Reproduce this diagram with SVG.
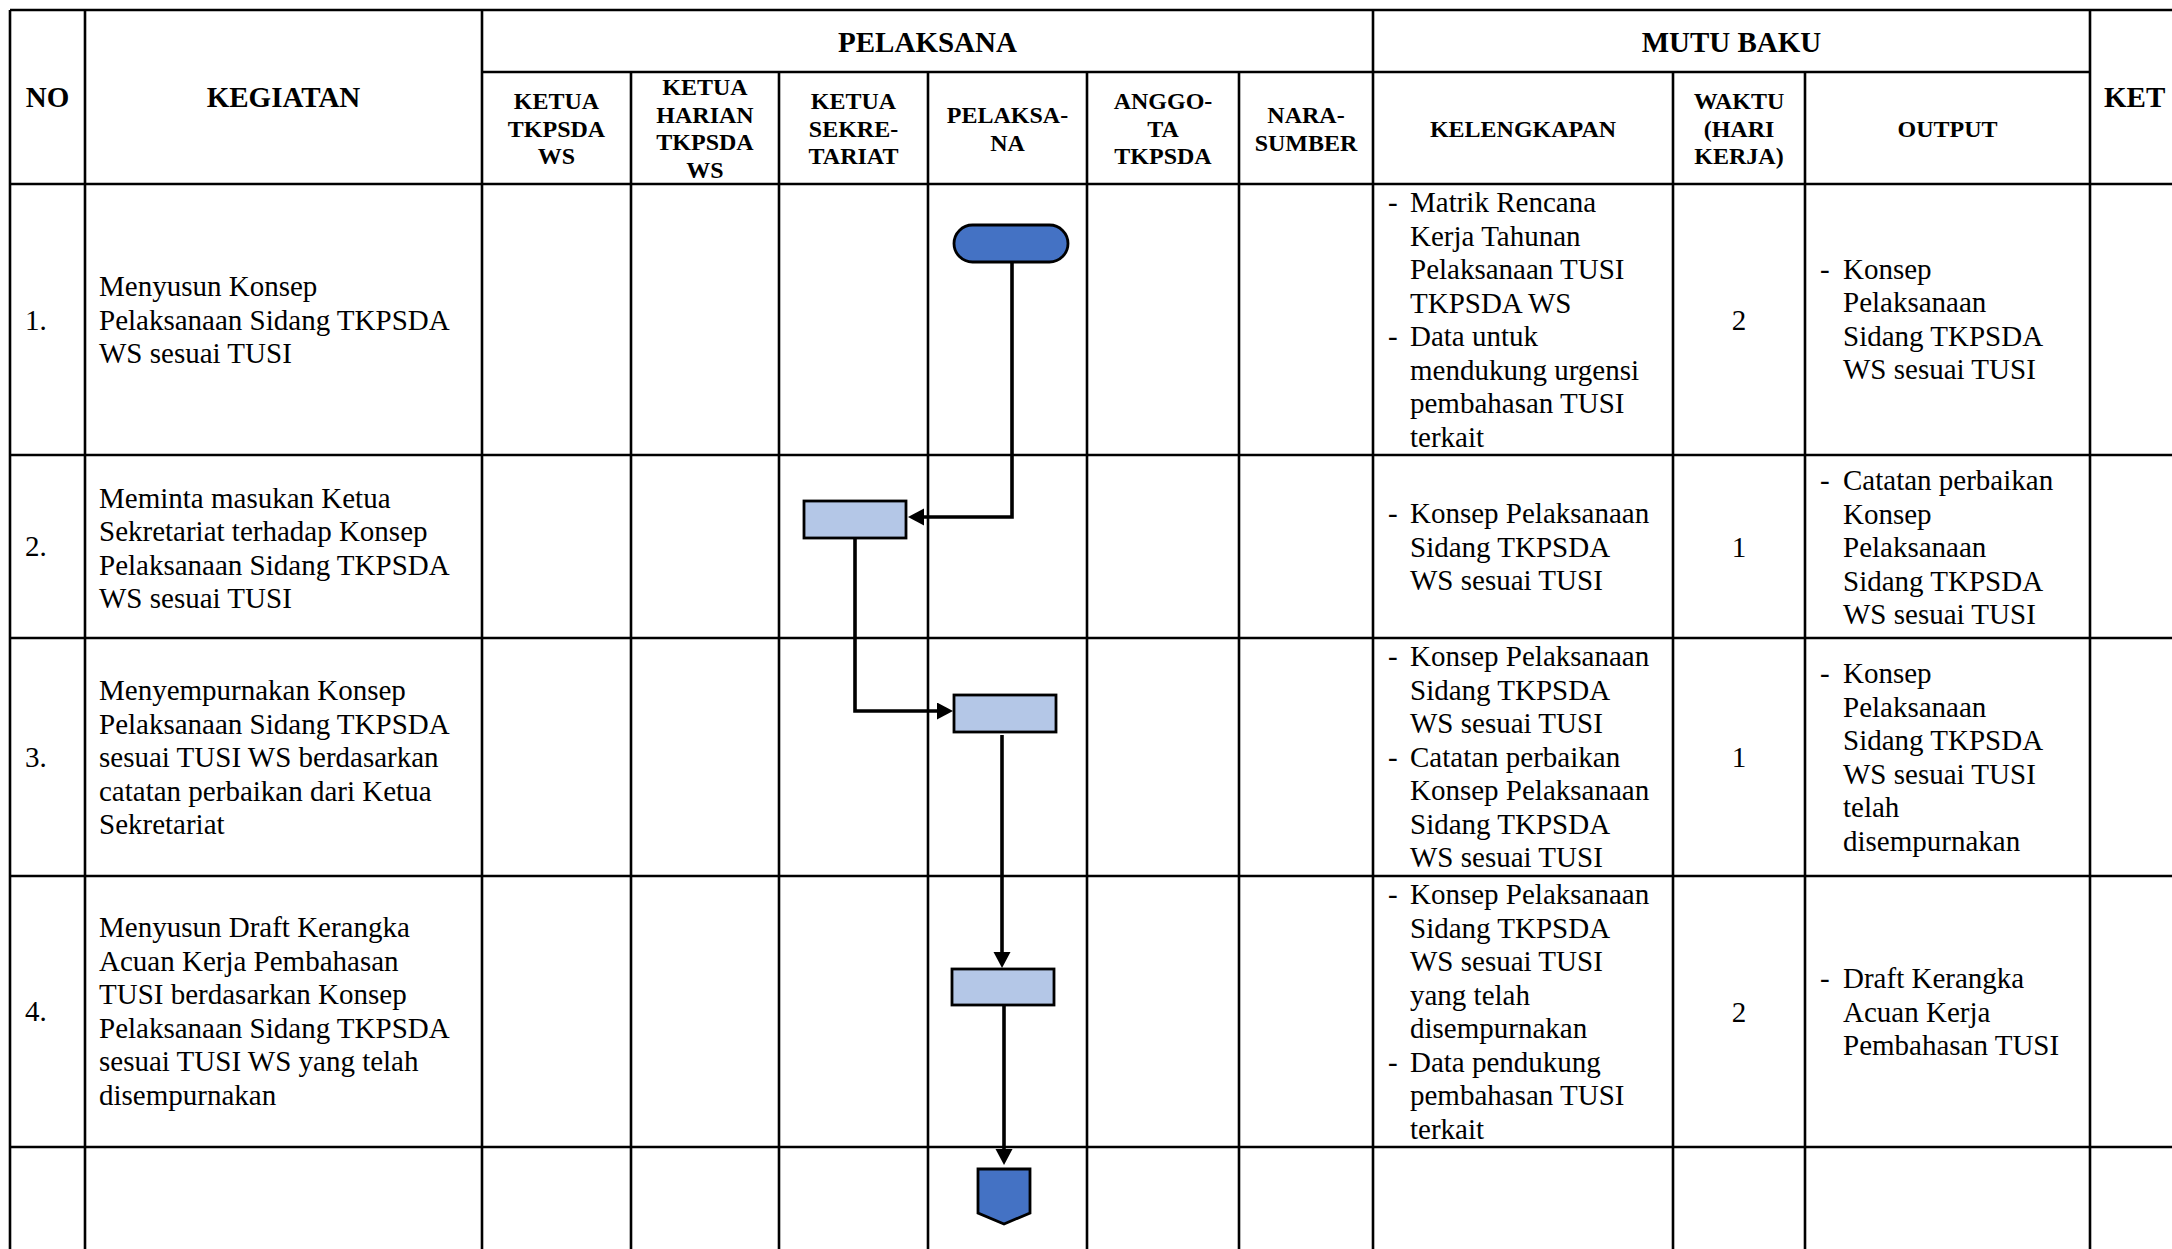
<svg xmlns="http://www.w3.org/2000/svg" width="2172" height="1249" viewBox="0 0 2172 1249">
<style>
.g line{stroke:#000;stroke-width:2.6}
text{font-family:"Liberation Serif","Times New Roman",serif;fill:#000}
.h{font-size:29px;font-weight:bold;text-anchor:middle}
.s{font-size:24px;font-weight:bold;text-anchor:middle}
.b{font-size:29px}
.m{text-anchor:middle}
.term{fill:#4472C4;stroke:#000;stroke-width:2.8}
.proc{fill:#B4C7E7;stroke:#000;stroke-width:2.8}
.conn path{fill:none;stroke:#000;stroke-width:3.6;marker-end:url(#arr)}
</style>
<defs>
<marker id="arr" markerUnits="userSpaceOnUse" markerWidth="17" markerHeight="18" refX="6" refY="8.5" orient="auto">
<path d="M0,0 L16,8.5 L0,17 Z" fill="#000"/>
</marker>
</defs>
<rect width="2172" height="1249" fill="#fff"/>
<g id="grid" class="g">
<line x1="10" y1="10" x2="2172" y2="10"/>
<line x1="482" y1="72" x2="2090" y2="72"/>
<line x1="10" y1="184" x2="2172" y2="184"/>
<line x1="10" y1="455" x2="2172" y2="455"/>
<line x1="10" y1="638" x2="2172" y2="638"/>
<line x1="10" y1="876" x2="2172" y2="876"/>
<line x1="10" y1="1147" x2="2172" y2="1147"/>
<line x1="10" y1="10" x2="10" y2="1249"/>
<line x1="85" y1="10" x2="85" y2="1249"/>
<line x1="482" y1="10" x2="482" y2="1249"/>
<line x1="631" y1="72" x2="631" y2="1249"/>
<line x1="779" y1="72" x2="779" y2="1249"/>
<line x1="928" y1="72" x2="928" y2="1249"/>
<line x1="1087" y1="72" x2="1087" y2="1249"/>
<line x1="1239" y1="72" x2="1239" y2="1249"/>
<line x1="1373" y1="10" x2="1373" y2="1249"/>
<line x1="1673" y1="72" x2="1673" y2="1249"/>
<line x1="1805" y1="72" x2="1805" y2="1249"/>
<line x1="2090" y1="10" x2="2090" y2="1249"/>
</g>
<g id="header">
<text class="h" x="47.5" y="107">NO</text>
<text class="h" x="283.5" y="107">KEGIATAN</text>
<text class="h" x="927.5" y="52">PELAKSANA</text>
<text class="h" x="1731.5" y="52">MUTU BAKU</text>
<text class="h" x="2104" y="107" style="text-anchor:start">KET</text>
<text class="s" x="556.5" y="109">KETUA</text><text class="s" x="556.5" y="136.5">TKPSDA</text><text class="s" x="556.5" y="164">WS</text>
<text class="s" x="705" y="95">KETUA</text><text class="s" x="705" y="122.5">HARIAN</text><text class="s" x="705" y="150">TKPSDA</text><text class="s" x="705" y="177.5">WS</text>
<text class="s" x="853.5" y="109">KETUA</text><text class="s" x="853.5" y="136.5">SEKRE-</text><text class="s" x="853.5" y="164">TARIAT</text>
<text class="s" x="1007.5" y="123">PELAKSA-</text><text class="s" x="1007.5" y="150.5">NA</text>
<text class="s" x="1163" y="109">ANGGO-</text><text class="s" x="1163" y="136.5">TA</text><text class="s" x="1163" y="164">TKPSDA</text>
<text class="s" x="1306" y="123">NARA-</text><text class="s" x="1306" y="150.5">SUMBER</text>
<text class="s" x="1523" y="137">KELENGKAPAN</text>
<text class="s" x="1739" y="109">WAKTU</text><text class="s" x="1739" y="136.5">(HARI</text><text class="s" x="1739" y="164">KERJA)</text>
<text class="s" x="1947.5" y="137">OUTPUT</text>
</g>
<g id="row1" class="b">
<text x="25" y="330">1.</text>
<text x="99" y="296">Menyusun Konsep</text>
<text x="99" y="329.5">Pelaksanaan Sidang TKPSDA</text>
<text x="99" y="363">WS sesuai TUSI</text>
<text x="1388" y="212">-</text><text x="1410" y="212">Matrik Rencana</text>
<text x="1410" y="245.5">Kerja Tahunan</text>
<text x="1410" y="279">Pelaksanaan TUSI</text>
<text x="1410" y="312.5">TKPSDA WS</text>
<text x="1388" y="346">-</text><text x="1410" y="346">Data untuk</text>
<text x="1410" y="379.5">mendukung urgensi</text>
<text x="1410" y="413">pembahasan TUSI</text>
<text x="1410" y="446.5">terkait</text>
<text class="m" x="1739" y="330">2</text>
<text x="1820" y="278.5">-</text><text x="1843" y="278.5">Konsep</text>
<text x="1843" y="312">Pelaksanaan</text>
<text x="1843" y="345.5">Sidang TKPSDA</text>
<text x="1843" y="379">WS sesuai TUSI</text>
</g>
<g id="row2" class="b">
<text x="25" y="556">2.</text>
<text x="99" y="507.5">Meminta masukan Ketua</text>
<text x="99" y="541">Sekretariat terhadap Konsep</text>
<text x="99" y="574.5">Pelaksanaan Sidang TKPSDA</text>
<text x="99" y="608">WS sesuai TUSI</text>
<text x="1388" y="523">-</text><text x="1410" y="523">Konsep Pelaksanaan</text>
<text x="1410" y="556.5">Sidang TKPSDA</text>
<text x="1410" y="590">WS sesuai TUSI</text>
<text class="m" x="1739" y="557">1</text>
<text x="1820" y="490">-</text><text x="1843" y="490">Catatan perbaikan</text>
<text x="1843" y="523.5">Konsep</text>
<text x="1843" y="557">Pelaksanaan</text>
<text x="1843" y="590.5">Sidang TKPSDA</text>
<text x="1843" y="624">WS sesuai TUSI</text>
</g>
<g id="row3" class="b">
<text x="25" y="767">3.</text>
<text x="99" y="700">Menyempurnakan Konsep</text>
<text x="99" y="733.5">Pelaksanaan Sidang TKPSDA</text>
<text x="99" y="767">sesuai TUSI WS berdasarkan</text>
<text x="99" y="800.5">catatan perbaikan dari Ketua</text>
<text x="99" y="834">Sekretariat</text>
<text x="1388" y="666">-</text><text x="1410" y="666">Konsep Pelaksanaan</text>
<text x="1410" y="699.5">Sidang TKPSDA</text>
<text x="1410" y="733">WS sesuai TUSI</text>
<text x="1388" y="766.5">-</text><text x="1410" y="766.5">Catatan perbaikan</text>
<text x="1410" y="800">Konsep Pelaksanaan</text>
<text x="1410" y="833.5">Sidang TKPSDA</text>
<text x="1410" y="867">WS sesuai TUSI</text>
<text class="m" x="1739" y="767">1</text>
<text x="1820" y="683">-</text><text x="1843" y="683">Konsep</text>
<text x="1843" y="716.5">Pelaksanaan</text>
<text x="1843" y="750">Sidang TKPSDA</text>
<text x="1843" y="783.5">WS sesuai TUSI</text>
<text x="1843" y="817">telah</text>
<text x="1843" y="850.5">disempurnakan</text>
</g>
<g id="row4" class="b">
<text x="25" y="1021">4.</text>
<text x="99" y="937">Menyusun Draft Kerangka</text>
<text x="99" y="970.5">Acuan Kerja Pembahasan</text>
<text x="99" y="1004">TUSI berdasarkan Konsep</text>
<text x="99" y="1037.5">Pelaksanaan Sidang TKPSDA</text>
<text x="99" y="1071">sesuai TUSI WS yang telah</text>
<text x="99" y="1104.5">disempurnakan</text>
<text x="1388" y="904">-</text><text x="1410" y="904">Konsep Pelaksanaan</text>
<text x="1410" y="937.5">Sidang TKPSDA</text>
<text x="1410" y="971">WS sesuai TUSI</text>
<text x="1410" y="1004.5">yang telah</text>
<text x="1410" y="1038">disempurnakan</text>
<text x="1388" y="1071.5">-</text><text x="1410" y="1071.5">Data pendukung</text>
<text x="1410" y="1105">pembahasan TUSI</text>
<text x="1410" y="1138.5">terkait</text>
<text class="m" x="1739" y="1022">2</text>
<text x="1820" y="988">-</text><text x="1843" y="988">Draft Kerangka</text>
<text x="1843" y="1021.5">Acuan Kerja</text>
<text x="1843" y="1055">Pembahasan TUSI</text>
</g>
<g id="connectors" class="conn">
<path d="M1012,262 V517 H918"/>
<path d="M855,538 V711 H943"/>
<path d="M1002,735 V958"/>
<path d="M1004,1005 V1155"/>
</g>
<g id="start"><rect class="term" x="954" y="225" width="114" height="37" rx="18.5"/></g>
<g id="step2"><rect class="proc" x="804" y="501" width="102" height="37"/></g>
<g id="step3"><rect class="proc" x="954" y="695" width="102" height="37"/></g>
<g id="step4"><rect class="proc" x="952" y="969" width="102" height="36"/></g>
<g id="end"><path class="term" d="M978,1169 H1030 V1213 L1004,1224 L978,1213 Z"/></g>
</svg>
